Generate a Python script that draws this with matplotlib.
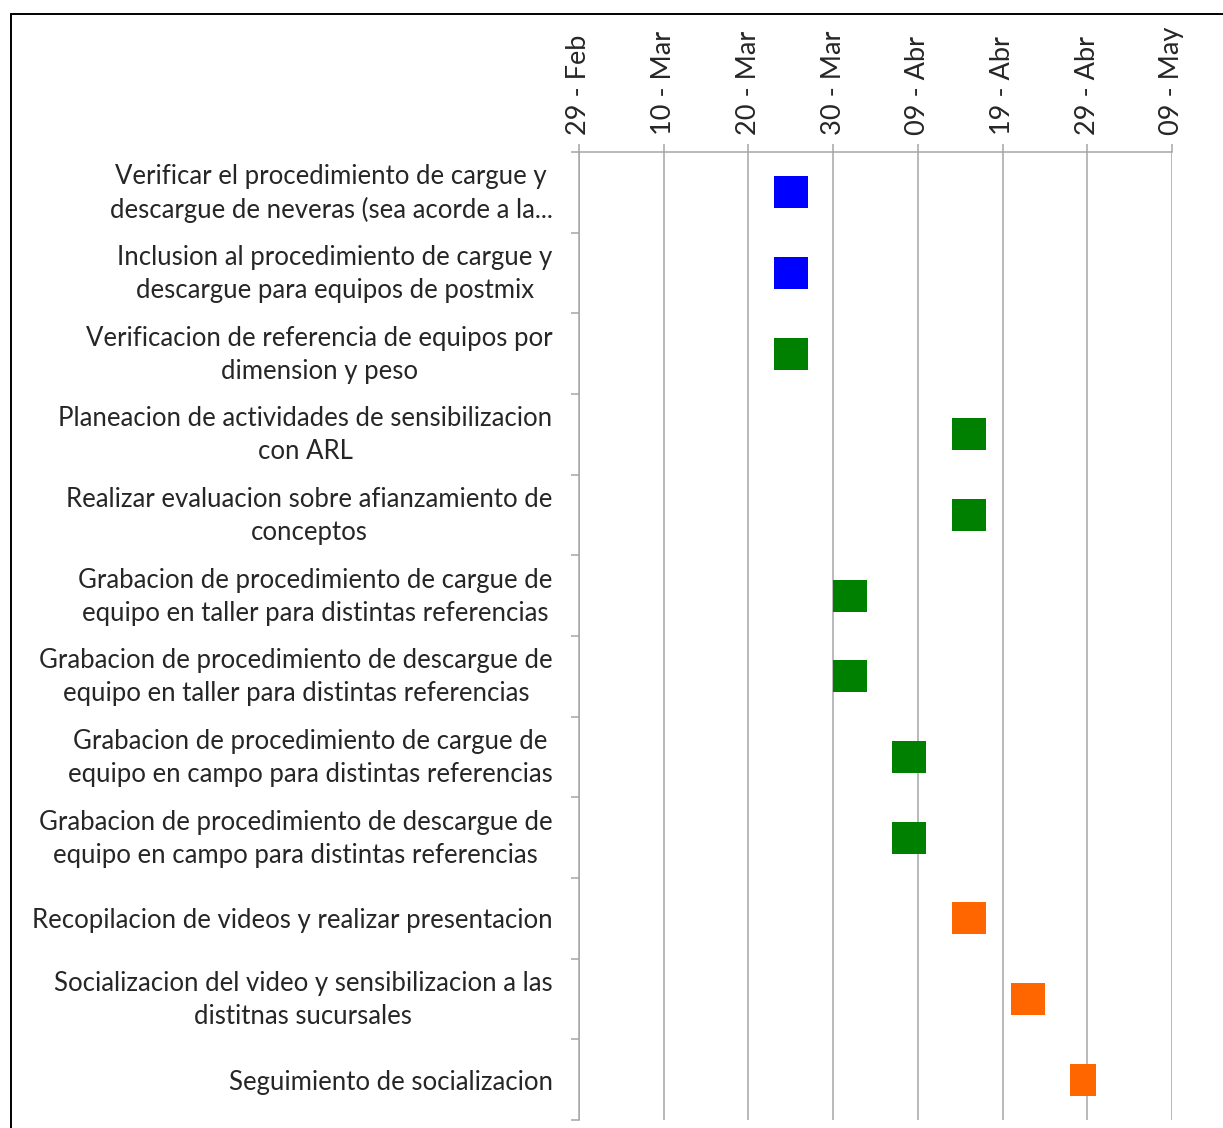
import matplotlib
matplotlib.use("Agg")
import matplotlib.pyplot as plt
import matplotlib.dates as mdates
from matplotlib.patches import Rectangle
from matplotlib.transforms import ScaledTranslation
from datetime import datetime

# Activities of the plan (top to bottom)
tasks = [
    "Verificar el procedimiento de cargue y\ndescargue de neveras (sea acorde a la...",
    "Inclusion al procedimiento de cargue y\ndescargue para equipos de postmix",
    "Verificacion de referencia de equipos por\ndimension y peso",
    "Planeacion de actividades de sensibilizacion\ncon ARL",
    "Realizar evaluacion sobre afianzamiento de\nconceptos",
    "Grabacion de procedimiento de cargue de\nequipo en taller para distintas referencias",
    "Grabacion de procedimiento de descargue de\nequipo en taller para distintas referencias",
    "Grabacion de procedimiento de cargue de\nequipo en campo para distintas referencias",
    "Grabacion de procedimiento de descargue de\nequipo en campo para distintas referencias",
    "Recopilacion de videos y realizar presentacion",
    "Socializacion del video y sensibilizacion a las\ndistitnas sucursales",
    "Seguimiento de socializacion",
]
start_dates = [
    "2016-03-23", "2016-03-23", "2016-03-23", "2016-04-13", "2016-04-13",
    "2016-03-30", "2016-03-30", "2016-04-06", "2016-04-06", "2016-04-13",
    "2016-04-20", "2016-04-27",
]
durations_days = [4, 4, 4, 4, 4, 4, 4, 4, 4, 4, 4, 3]
phase_colors = [
    "#0000FF", "#0000FF", "#008000", "#008000", "#008000", "#008000",
    "#008000", "#008000", "#008000", "#FF6600", "#FF6600", "#FF6600",
]
tick_dates = ["2016-02-29", "2016-03-10", "2016-03-20", "2016-03-30",
              "2016-04-09", "2016-04-19", "2016-04-29", "2016-05-09"]
tick_labels = ["29 - Feb", "10 - Mar", "20 - Mar", "30 - Mar",
               "09 - Abr", "19 - Abr", "29 - Abr", "09 - May"]

plt.rcParams["font.family"] = ["Lato", "DejaVu Sans"]

W, H = 1223, 1128
fig = plt.figure(figsize=(W / 100, H / 100), dpi=100)
ax = fig.add_axes([579 / W, 1 - 1120 / H, (1172 - 579) / W, (1120 - 152) / H])

grid_c = "#a6a6a6"
text_c = "#262626"
n = len(tasks)
starts = [mdates.date2num(datetime.strptime(s, "%Y-%m-%d")) for s in start_dates]
ax.barh(range(n), durations_days, left=starts, height=0.4,
        color=phase_colors, edgecolor="none", zorder=3)

ticks = [mdates.date2num(datetime.strptime(s, "%Y-%m-%d")) for s in tick_dates]
ax.set_xlim(ticks[0], ticks[-1])
ax.set_ylim(n - 0.5, -0.5)

ax.xaxis.tick_top()
ax.set_xticks(ticks)
ax.set_xticklabels(tick_labels, rotation=90, fontsize=19.5, color=text_c)
ax.tick_params(axis="x", direction="out", length=6, width=1.1, color=grid_c, pad=6)
ax.grid(axis="x", color=grid_c, linewidth=1.1, zorder=0)

# Category boundaries carry the ticks; labels sit at row centres
ax.set_yticks([i - 0.5 for i in range(n + 1)])
ax.set_yticklabels([])
ax.tick_params(axis="y", direction="out", length=6, width=1.1, color=grid_c)
ax.set_yticks(range(n), minor=True)
ax.set_yticklabels(tasks, minor=True, fontsize=18.5, color=text_c)
ax.tick_params(axis="y", which="minor", length=0, pad=19)
lift = ScaledTranslation(0, 4 / 72, fig.dpi_scale_trans)
for lbl in ax.get_yticklabels(minor=True):
    lbl.set_multialignment("center")
    lbl.set_linespacing(1.4)
    if "\n" in lbl.get_text():
        lbl.set_transform(lbl.get_transform() + lift)

for side in ["right", "bottom"]:
    ax.spines[side].set_visible(False)
for side in ["left", "top"]:
    ax.spines[side].set_color(grid_c)
    ax.spines[side].set_linewidth(1.1)

# Outer frame around the chart area
fig.patches.append(Rectangle((11 / W, -0.05), 1.1, 1 - 14 / H + 0.05,
                             transform=fig.transFigure, fill=False,
                             edgecolor="black", linewidth=1.4))

fig.savefig("out.png", dpi=100)
